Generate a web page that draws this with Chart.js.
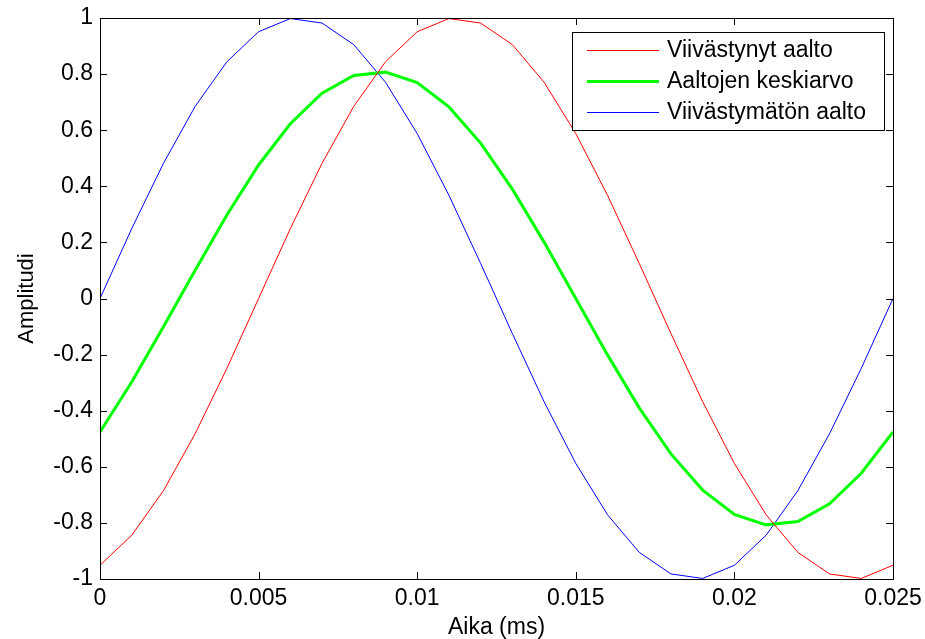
<!DOCTYPE html>
<html>
<head>
<meta charset="utf-8">
<script src="https://cdn.jsdelivr.net/npm/chart.js@4/dist/chart.umd.min.js"></script>
<style>
  html, body { margin: 0; padding: 0; background: #fff; }
  #wrap { width: 925px; height: 639px; }
</style>
</head>
<body>
<div id="wrap"><canvas id="aallot" width="925" height="639"></canvas></div>
<script>
// aika (ms), näytteet 0.001 välein
var aika = [0, 0.001, 0.002, 0.003, 0.004, 0.005, 0.006, 0.007, 0.008, 0.009,
            0.010, 0.011, 0.012, 0.013, 0.014, 0.015, 0.016, 0.017, 0.018, 0.019,
            0.020, 0.021, 0.022, 0.023, 0.024, 0.025];

var viivastynyt = [-0.951, -0.844, -0.685, -0.482, -0.249, 0.000, 0.249, 0.482, 0.685, 0.844,
                   0.951, 0.998, 0.982, 0.905, 0.771, 0.588, 0.368, 0.125, -0.125, -0.368,
                   -0.588, -0.771, -0.905, -0.982, -0.998, -0.951];

var keskiarvo = [-0.476, -0.298, -0.101, 0.101, 0.298, 0.476, 0.623, 0.732, 0.795, 0.807,
                 0.770, 0.683, 0.554, 0.390, 0.201, 0.000, -0.201, -0.390, -0.554, -0.683,
                 -0.770, -0.807, -0.795, -0.732, -0.623, -0.476];

var viivastymaton = [0.000, 0.249, 0.482, 0.685, 0.844, 0.951, 0.998, 0.982, 0.905, 0.771,
                     0.588, 0.368, 0.125, -0.125, -0.368, -0.588, -0.771, -0.905, -0.982, -0.998,
                     -0.951, -0.844, -0.685, -0.482, -0.249, 0.000];

var xTicks = [0, 0.005, 0.01, 0.015, 0.02, 0.025];
var yTicks = [-1, -0.8, -0.6, -0.4, -0.2, 0, 0.2, 0.4, 0.6, 0.8, 1];

var fontti = '"Liberation Sans", Arial, sans-serif';

function pisteet(ys) {
  return aika.map(function (t, i) { return { x: t, y: ys[i] }; });
}

function siisti(v) {
  return String(parseFloat(v.toFixed(4)));
}

// laatikko, sisäänpäin osoittavat tikit ja selite
var kehys = {
  id: 'kehys',
  afterDatasetsDraw: function (chart) {
    var c = chart.ctx, a = chart.chartArea;
    var xs = chart.scales.x, ys = chart.scales.y;
    var tl = 7;
    c.save();
    c.strokeStyle = '#000';
    c.lineWidth = 1;
    c.beginPath();
    xTicks.forEach(function (v) {
      var px = Math.round(xs.getPixelForValue(v)) + 0.5;
      c.moveTo(px, a.bottom); c.lineTo(px, a.bottom - tl);
      c.moveTo(px, a.top); c.lineTo(px, a.top + tl);
    });
    yTicks.forEach(function (v) {
      var py = Math.round(ys.getPixelForValue(v)) + 0.5;
      c.moveTo(a.left, py); c.lineTo(a.left + tl, py);
      c.moveTo(a.right, py); c.lineTo(a.right - tl, py);
    });
    c.stroke();
    c.strokeRect(Math.round(a.left) + 0.5, Math.round(a.top) + 0.5,
                 Math.round(a.right - a.left), Math.round(a.bottom - a.top));

    // selite
    var lx = 572, ly = 32, lw = 312, lh = 98;
    c.fillStyle = '#fff';
    c.fillRect(lx, ly, lw, lh);
    c.strokeRect(lx + 0.5, ly + 0.5, lw, lh);
    var rivit = [50, 81, 112];
    c.font = '23px ' + fontti;
    c.textBaseline = 'middle';
    chart.data.datasets.forEach(function (ds, i) {
      c.strokeStyle = ds.borderColor;
      c.lineWidth = ds.borderWidth;
      c.beginPath();
      c.moveTo(587, rivit[i] + 0.5);
      c.lineTo(659, rivit[i] + 0.5);
      c.stroke();
      c.fillStyle = '#000';
      c.fillText(ds.label, 667, rivit[i] + 1);
    });
    c.restore();
  }
};

new Chart(document.getElementById('aallot'), {
  type: 'line',
  data: {
    datasets: [{
      label: 'Viivästynyt aalto',
      data: pisteet(viivastynyt),
      borderColor: '#ff0000',
      borderWidth: 1
    }, {
      label: 'Aaltojen keskiarvo',
      data: pisteet(keskiarvo),
      borderColor: '#00ff00',
      borderWidth: 3
    }, {
      label: 'Viivästymätön aalto',
      data: pisteet(viivastymaton),
      borderColor: '#0000ff',
      borderWidth: 1
    }]
  },
  options: {
    responsive: false,
    animation: false,
    layout: { padding: { left: 0, top: 18, right: 32, bottom: 0 } },
    elements: { point: { radius: 0 }, line: { tension: 0 } },
    plugins: { legend: { display: false }, tooltip: { enabled: false } },
    scales: {
      x: {
        type: 'linear',
        min: 0, max: 0.025,
        border: { display: false },
        grid: { display: false, drawTicks: false },
        afterBuildTicks: function (s) { s.ticks = xTicks.map(function (v) { return { value: v }; }); },
        afterFit: function (s) { s.height = 60; s.paddingLeft = 0; s.paddingRight = 0; },
        ticks: {
          padding: 6,
          color: '#000',
          font: { family: fontti, size: 23 },
          maxRotation: 0,
          callback: function (v) { return siisti(v); }
        },
        title: {
          display: true,
          text: 'Aika (ms)',
          color: '#000',
          font: { family: fontti, size: 23, lineHeight: 1 },
          padding: { top: 0, bottom: 0 }
        }
      },
      y: {
        min: -1, max: 1,
        border: { display: false },
        grid: { display: false, drawTicks: false },
        afterBuildTicks: function (s) { s.ticks = yTicks.map(function (v) { return { value: v }; }); },
        afterFit: function (s) { s.width = 100; s.paddingTop = 0; s.paddingBottom = 0; },
        ticks: {
          padding: 7,
          color: '#000',
          font: { family: fontti, size: 23 },
          callback: function (v) { return siisti(v); }
        },
        title: {
          display: true,
          text: 'Amplitudi',
          color: '#000',
          font: { family: fontti, size: 22, lineHeight: 1 },
          padding: { top: 16, bottom: 0 }
        }
      }
    }
  },
  plugins: [kehys]
});
</script>
</body>
</html>
